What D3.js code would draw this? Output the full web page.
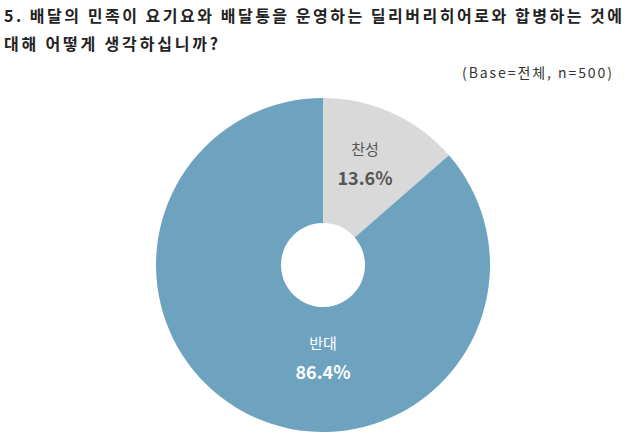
<!DOCTYPE html>
<html><head><meta charset="utf-8">
<script src="https://cdn.jsdelivr.net/npm/d3@7"></script>
<style>body{margin:0;background:#fff;font-family:"Noto Sans CJK KR","Noto Sans",sans-serif;}</style>
</head><body>
<script>
var categories = ["찬성", "반대"];
var values = [13.6, 86.4];
var colors = ["#d9d9d9", "#6ea3bf"];

var w = 640, h = 441;
var svg = d3.select("body").append("svg").attr("width", w).attr("height", h);

svg.append("text").attr("x", 4).attr("y", 22).attr("font-size", 16).attr("font-weight", "bold").attr("fill", "#222")
  .attr("textLength", 618).attr("lengthAdjust", "spacing")
  .text("5. 배달의 민족이 요기요와 배달통을 운영하는 딜리버리히어로와 합병하는 것에");
svg.append("text").attr("x", 4).attr("y", 50).attr("font-size", 16).attr("font-weight", "bold").attr("fill", "#222")
  .attr("textLength", 214).attr("lengthAdjust", "spacing")
  .text("대해 어떻게 생각하십니까?");
svg.append("text").attr("x", 612).attr("y", 78).attr("text-anchor", "end").attr("font-size", 14).attr("fill", "#333")
  .attr("textLength", 150).attr("lengthAdjust", "spacing")
  .text("(Base=전체,  n=500)");

var cx = 323, cy = 265, R = 167, r = 42;
var pie = d3.pie().sort(null).value(function(d) { return d; });
var arc = d3.arc().innerRadius(r).outerRadius(R);
var g = svg.append("g").attr("transform", "translate(" + cx + "," + cy + ")");
var arcs = pie(values);

g.selectAll("path").data(arcs).enter().append("path")
  .attr("d", arc).attr("fill", function(d, i) { return colors[i]; });

var labelPos = [[42, -110], [0, 84]];
var textCol = ["#555", "#fff"];
arcs.forEach(function(d, i) {
  g.append("text").attr("x", labelPos[i][0]).attr("y", labelPos[i][1])
    .attr("text-anchor", "middle").attr("font-size", 15).attr("fill", textCol[i]).text(categories[i]);
  g.append("text").attr("x", labelPos[i][0]).attr("y", labelPos[i][1] + 30)
    .attr("text-anchor", "middle").attr("font-size", 18).attr("font-weight", "bold").attr("fill", textCol[i])
    .text(values[i].toFixed(1) + "%");
});
</script>
</body></html>
